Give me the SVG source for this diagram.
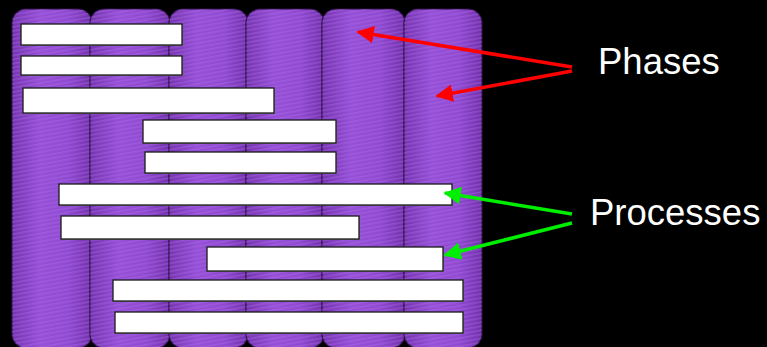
<svg xmlns="http://www.w3.org/2000/svg" width="767" height="347" viewBox="0 0 767 347">
<defs>
<linearGradient id="colg" x1="0" y1="0" x2="1" y2="0">
<stop offset="0" stop-color="#7434ad"/>
<stop offset="0.35" stop-color="#9550d6"/>
<stop offset="0.7" stop-color="#8f4ad0"/>
<stop offset="1" stop-color="#7030a8"/>
</linearGradient>
<pattern id="stripes" width="8" height="4" patternUnits="userSpaceOnUse" patternTransform="rotate(-10)">
<rect width="8" height="1.6" fill="#b070f0" opacity="0.35"/>
</pattern>
<marker id="ar" viewBox="0 0 10 10" refX="9" refY="5" markerWidth="5" markerHeight="5" orient="auto" markerUnits="strokeWidth">
<path d="M0,0 L10,5 L0,10 Z" fill="#ff0000"/>
</marker>
<marker id="ag" viewBox="0 0 10 10" refX="9" refY="5" markerWidth="5" markerHeight="5" orient="auto" markerUnits="strokeWidth">
<path d="M0,0 L10,5 L0,10 Z" fill="#00ee00"/>
</marker>
</defs>
<style>
.col rect.b{fill:url(#colg);stroke:#2a1040;stroke-width:1.2}
.col rect.t{fill:url(#stripes);stroke:none}
.bar rect.s{fill:#777}
.bar rect.w{fill:#ffffff;stroke:#1a1a1a;stroke-width:1.3}
.lbl{font-family:"Liberation Sans",Arial,sans-serif;font-size:36.5px;fill:#ffffff}
</style>
<rect width="767" height="347" fill="#000000"/>
<g id="phase1" class="col"><rect class="b" x="12" y="9" width="80" height="339" rx="14"/><rect class="t" x="12" y="9" width="80" height="339" rx="14"/></g>
<g id="phase2" class="col"><rect class="b" x="90" y="9" width="80" height="339" rx="14"/><rect class="t" x="90" y="9" width="80" height="339" rx="14"/></g>
<g id="phase3" class="col"><rect class="b" x="169" y="9" width="79" height="339" rx="14"/><rect class="t" x="169" y="9" width="79" height="339" rx="14"/></g>
<g id="phase4" class="col"><rect class="b" x="246" y="9" width="78" height="339" rx="14"/><rect class="t" x="246" y="9" width="78" height="339" rx="14"/></g>
<g id="phase5" class="col"><rect class="b" x="322" y="9" width="83" height="339" rx="14"/><rect class="t" x="322" y="9" width="83" height="339" rx="14"/></g>
<g id="phase6" class="col"><rect class="b" x="404" y="9" width="78" height="339" rx="14"/><rect class="t" x="404" y="9" width="78" height="339" rx="14"/></g>

<g id="p1" class="bar"><rect class="s" x="22" y="25" width="161" height="21"/><rect class="w" x="21" y="24" width="161" height="21"/></g>
<g id="p2" class="bar"><rect class="s" x="22" y="57" width="161" height="19"/><rect class="w" x="21" y="56" width="161" height="19"/></g>
<g id="p3" class="bar"><rect class="s" x="24" y="89" width="251" height="25"/><rect class="w" x="23" y="88" width="251" height="25"/></g>
<g id="p4" class="bar"><rect class="s" x="144" y="121" width="193" height="23"/><rect class="w" x="143" y="120" width="193" height="23"/></g>
<g id="p5" class="bar"><rect class="s" x="146" y="153" width="191" height="21"/><rect class="w" x="145" y="152" width="191" height="21"/></g>
<g id="p6" class="bar"><rect class="s" x="60" y="185" width="393" height="21"/><rect class="w" x="59" y="184" width="393" height="21"/></g>
<g id="p7" class="bar"><rect class="s" x="62" y="217" width="298" height="23"/><rect class="w" x="61" y="216" width="298" height="23"/></g>
<g id="p8" class="bar"><rect class="s" x="208" y="248" width="236" height="24"/><rect class="w" x="207" y="247" width="236" height="24"/></g>
<g id="p9" class="bar"><rect class="s" x="114" y="281" width="350" height="21"/><rect class="w" x="113" y="280" width="350" height="21"/></g>
<g id="p10" class="bar"><rect class="s" x="116" y="313" width="348" height="21"/><rect class="w" x="115" y="312" width="348" height="21"/></g>

<g id="connectors" fill="none" stroke-width="3.5">
<line x1="572" y1="67" x2="358" y2="32" stroke="#ff0000" marker-end="url(#ar)"/>
<line x1="572" y1="71" x2="437" y2="96" stroke="#ff0000" marker-end="url(#ar)"/>
<line x1="572" y1="214" x2="445" y2="193" stroke="#00ee00" marker-end="url(#ag)"/>
<line x1="572" y1="223" x2="445" y2="255" stroke="#00ee00" marker-end="url(#ag)"/>
</g>
<g id="label-phases"><text class="lbl" x="598" y="74">Phases</text></g>
<g id="label-processes"><text class="lbl" x="590" y="225">Processes</text></g>
</svg>
